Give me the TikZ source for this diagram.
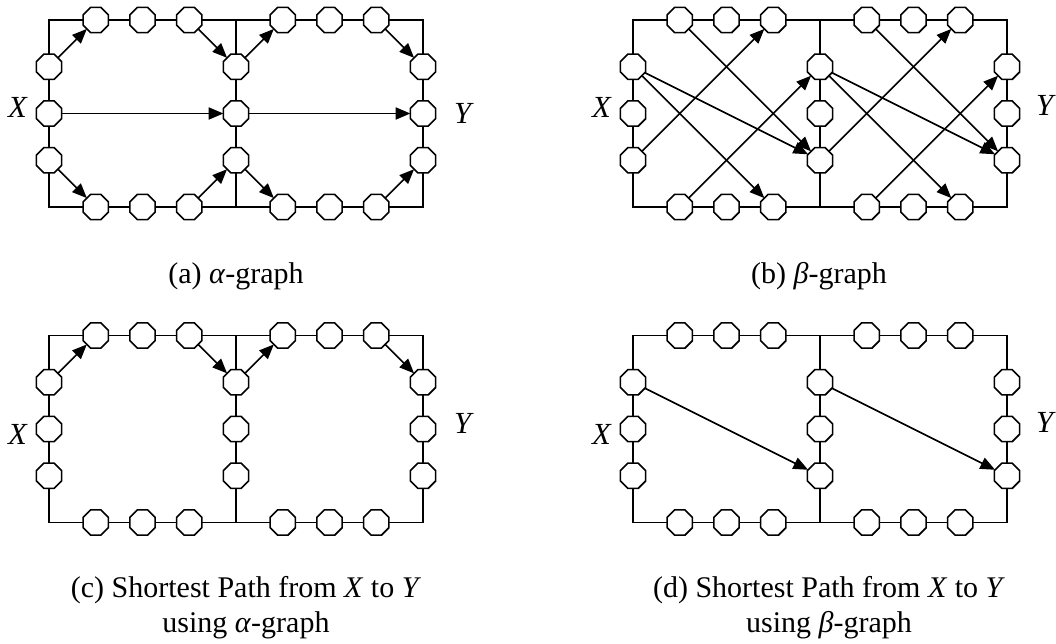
\documentclass[tikz,border=0pt]{standalone}
\usepackage{fontspec}
\setmainfont{Liberation Serif}
\usetikzlibrary{shapes.geometric,arrows.meta}

\tikzset{
  oct/.style={regular polygon, regular polygon sides=8, draw, fill=white,
    line width=1.2pt, inner sep=0pt, outer sep=0pt, minimum size=20.5pt},
  frame/.style={line width=1.4pt},
  arr/.style={line width=1.3pt, -{Triangle[length=11pt,width=9pt]}},
  lbl/.style={font=\fontsize{23}{27}\selectfont, inner sep=0pt},
  captext/.style={font=\fontsize{22.5}{27}\selectfont, inner sep=0pt, anchor=base},
}

% Two square cells side by side with three octagon nodes on every edge.
% #1 = name prefix, #2 = left x, #3 = top y (cell size 187)
\newcommand\gridpanel[3]{%
  \coordinate (#1NW) at (#2,#3);
  \coordinate (#1SE) at (#2+374,#3+187);
  \coordinate (#1MT) at (#2+187,#3);
  \coordinate (#1MB) at (#2+187,#3+187);
  \draw[frame] (#1NW) rectangle (#1SE) (#1MT) -- (#1MB);
  \foreach \i/\j in {1/4,2/5,3/6}{
    \node[oct] (#1l\i) at (#2,#3+\i*46.75) {};
    \node[oct] (#1m\i) at (#2+187,#3+\i*46.75) {};
    \node[oct] (#1r\i) at (#2+374,#3+\i*46.75) {};
    \node[oct] (#1t\i) at (#2+\i*46.75,#3) {};
    \node[oct] (#1t\j) at (#2+187+\i*46.75,#3) {};
    \node[oct] (#1b\i) at (#2+\i*46.75,#3+187) {};
    \node[oct] (#1b\j) at (#2+187+\i*46.75,#3+187) {};
  }%
}

\begin{document}
\begin{tikzpicture}[x=0.75pt, y=-0.75pt]
  \useasboundingbox[fill=white] (0,0) rectangle (1056,643);

  % (a) alpha-graph
  \gridpanel{a}{49}{20}
  \draw[arr] (al1) -- (at1);
  \draw[arr] (at3) -- (am1);
  \draw[arr] (am1) -- (at4);
  \draw[arr] (at6) -- (ar1);
  \draw[arr] (al2) -- (am2);
  \draw[arr] (am2) -- (ar2);
  \draw[arr] (al3) -- (ab1);
  \draw[arr] (ab3) -- (am3);
  \draw[arr] (am3) -- (ab4);
  \draw[arr] (ab6) -- (ar3);
  \node[lbl] (aX) at (18,107) {\textit{X}};
  \node[lbl] (aY) at (464,113) {\textit{Y}};
  \node[captext] (acap) at (236,283) {(a) \textit{α}-graph};

  % (b) beta-graph
  \gridpanel{b}{633}{20}
  \draw[arr] (bt1) -- (bm3);
  \draw[arr] (bl1) -- (bm3);
  \draw[arr] (bl1) -- (bb3);
  \draw[arr] (bl3) -- (bt3);
  \draw[arr] (bb1) -- (bm1);
  \draw[arr] (bt4) -- (br3);
  \draw[arr] (bm1) -- (br3);
  \draw[arr] (bm1) -- (bb6);
  \draw[arr] (bm3) -- (bt6);
  \draw[arr] (bb4) -- (br1);
  \node[lbl] (bX) at (602,107.5) {\textit{X}};
  \node[lbl] (bY) at (1046,105.5) {\textit{Y}};
  \node[captext] (bcap) at (819,283) {(b) \textit{β}-graph};

  % (c) shortest path on the alpha-graph
  \gridpanel{c}{49}{335.5}
  \draw[arr] (cl1) -- (ct1);
  \draw[arr] (ct3) -- (cm1);
  \draw[arr] (cm1) -- (ct4);
  \draw[arr] (ct6) -- (cr1);
  \node[lbl] (cX) at (18,434) {\textit{X}};
  \node[lbl] (cY) at (464,423) {\textit{Y}};
  \node[captext] (ccap1) at (246,597) {(c) Shortest Path from \textit{X} to \textit{Y}};
  \node[captext] (ccap2) at (246,632) {using \textit{α}-graph};

  % (d) shortest path on the beta-graph
  \gridpanel{d}{633}{335.5}
  \draw[arr] (dl1) -- (dm3);
  \draw[arr] (dm1) -- (dr3);
  \node[lbl] (dX) at (602,434) {\textit{X}};
  \node[lbl] (dY) at (1046,422) {\textit{Y}};
  \node[captext] (dcap1) at (829,597) {(d) Shortest Path from \textit{X} to \textit{Y}};
  \node[captext] (dcap2) at (829,632) {using \textit{β}-graph};
\end{tikzpicture}
\end{document}
